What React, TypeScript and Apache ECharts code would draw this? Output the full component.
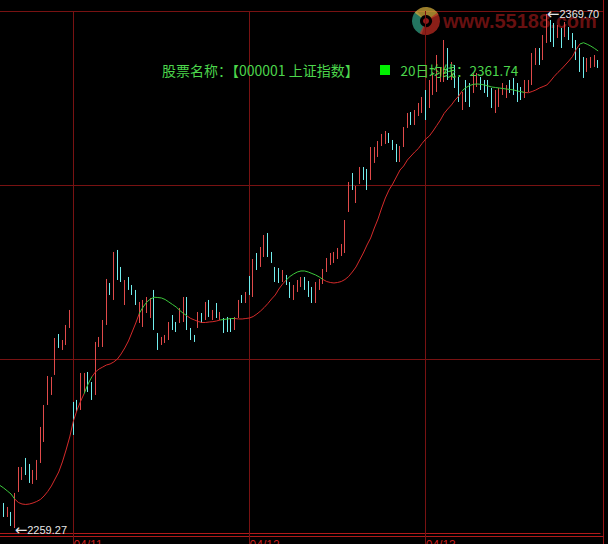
import React, { useEffect, useRef } from 'react';
import * as echarts from 'echarts';

// Trading days shown and how many 5-minute bars of each are on screen
const dayLabels = ['04/10', '04/11', '04/12', '04/13'];
const barsPerDay = [20, 48, 48, 48];

// 5-minute bars: [open, close, lowest, highest]
const ohlc: number[][] = [
  [2265.29, 2261.86, 2261.86, 2265.29], [2264.65, 2261.64, 2261.64, 2264.65], [2261.64, 2263.79, 2261.64, 2263.79], [2262.72, 2259.71, 2259.71, 2262.72],
  [2259.27, 2266.80, 2259.27, 2266.80], [2267.01, 2272.38, 2267.01, 2272.38], [2269.59, 2272.38, 2269.59, 2272.38], [2274.32, 2270.66, 2270.66, 2274.32],
  [2273.03, 2268.95, 2268.95, 2273.03], [2268.73, 2271.74, 2268.73, 2271.74], [2269.59, 2273.89, 2269.59, 2273.89], [2273.24, 2280.98, 2273.24, 2280.98],
  [2277.75, 2285.70, 2277.75, 2285.70], [2285.70, 2291.93, 2285.70, 2291.93], [2287.85, 2291.72, 2287.85, 2291.72], [2292.15, 2300.09, 2292.15, 2300.09],
  [2300.95, 2297.95, 2297.95, 2300.95], [2297.52, 2299.66, 2297.52, 2299.66], [2298.59, 2302.89, 2298.59, 2302.89], [2302.24, 2306.11, 2302.24, 2306.11],
  [2286.35, 2279.26, 2279.26, 2286.35], [2286.78, 2284.20, 2284.20, 2286.78], [2284.63, 2292.58, 2284.63, 2292.58], [2288.28, 2292.58, 2288.28, 2292.58],
  [2292.79, 2288.49, 2288.49, 2292.79], [2290.64, 2286.78, 2286.78, 2290.64], [2287.85, 2299.24, 2287.85, 2299.24], [2298.16, 2300.31, 2298.16, 2300.31],
  [2298.16, 2303.96, 2298.16, 2303.96], [2302.89, 2312.77, 2302.89, 2312.77], [2311.91, 2309.33, 2309.33, 2311.91], [2308.26, 2318.57, 2308.26, 2318.57],
  [2319.00, 2312.55, 2312.55, 2319.00], [2315.35, 2312.12, 2312.12, 2315.35], [2307.18, 2312.55, 2307.18, 2312.55], [2313.20, 2310.41, 2310.41, 2313.20],
  [2311.48, 2309.33, 2309.33, 2311.48], [2310.41, 2307.18, 2307.18, 2310.41], [2303.32, 2307.83, 2303.32, 2307.83], [2302.46, 2308.26, 2302.46, 2308.26],
  [2305.46, 2308.90, 2305.46, 2308.90], [2304.39, 2308.69, 2304.39, 2308.69], [2310.41, 2301.81, 2301.81, 2310.41], [2301.17, 2297.52, 2297.52, 2301.17],
  [2298.59, 2300.31, 2298.59, 2300.31], [2299.02, 2300.74, 2299.02, 2300.74], [2299.66, 2303.53, 2299.66, 2303.53], [2305.03, 2301.81, 2301.81, 2305.03],
  [2303.53, 2301.38, 2301.38, 2303.53], [2303.32, 2306.54, 2303.32, 2306.54], [2303.53, 2308.90, 2303.53, 2308.90], [2308.90, 2301.81, 2301.81, 2308.90],
  [2302.24, 2299.66, 2299.66, 2302.24], [2300.74, 2299.24, 2299.24, 2300.74], [2302.24, 2305.68, 2302.24, 2305.68], [2305.46, 2303.32, 2303.32, 2305.46],
  [2303.96, 2307.83, 2303.96, 2307.83], [2308.26, 2304.61, 2304.61, 2308.26], [2303.96, 2306.11, 2303.96, 2306.11], [2307.61, 2304.39, 2304.39, 2307.61],
  [2303.96, 2305.68, 2303.96, 2305.68], [2304.39, 2301.17, 2301.17, 2304.39], [2304.61, 2301.38, 2301.38, 2304.61], [2304.39, 2301.38, 2301.38, 2304.39],
  [2301.81, 2304.61, 2301.81, 2304.61], [2304.39, 2308.26, 2304.39, 2308.26], [2309.33, 2307.61, 2307.61, 2309.33], [2307.61, 2309.98, 2307.61, 2309.98],
  [2313.41, 2309.33, 2309.33, 2313.41], [2308.90, 2317.06, 2308.90, 2317.06], [2318.35, 2314.70, 2314.70, 2318.35], [2315.35, 2319.64, 2315.35, 2319.64],
  [2317.49, 2322.22, 2317.49, 2322.22], [2322.65, 2317.49, 2317.49, 2322.65], [2318.57, 2316.21, 2316.21, 2318.57], [2315.35, 2312.12, 2312.12, 2315.35],
  [2315.13, 2311.91, 2311.91, 2315.13], [2312.12, 2314.70, 2312.12, 2314.70], [2313.63, 2311.48, 2311.48, 2313.63], [2312.12, 2308.69, 2308.69, 2312.12],
  [2308.26, 2311.48, 2308.26, 2311.48], [2309.98, 2312.55, 2309.98, 2312.55], [2311.05, 2313.20, 2311.05, 2313.20], [2313.20, 2310.41, 2310.41, 2313.20],
  [2312.34, 2308.90, 2308.90, 2312.34], [2311.05, 2307.61, 2307.61, 2311.05], [2307.61, 2312.12, 2307.61, 2312.12], [2310.41, 2312.77, 2310.41, 2312.77],
  [2311.69, 2314.92, 2311.69, 2314.92], [2314.27, 2317.28, 2314.27, 2317.28], [2315.78, 2318.35, 2315.78, 2318.35], [2316.21, 2318.57, 2316.21, 2318.57],
  [2317.06, 2319.43, 2317.06, 2319.43], [2317.71, 2320.29, 2317.71, 2320.29], [2318.35, 2325.44, 2318.35, 2325.44], [2327.16, 2333.61, 2327.16, 2333.61],
  [2335.54, 2331.89, 2331.89, 2335.54], [2329.09, 2332.75, 2329.09, 2332.75], [2333.18, 2336.83, 2333.18, 2336.83], [2336.83, 2334.04, 2334.04, 2336.83],
  [2336.40, 2331.89, 2331.89, 2336.40], [2334.04, 2341.12, 2334.04, 2341.12], [2337.69, 2341.12, 2337.69, 2341.12], [2338.98, 2342.41, 2338.98, 2342.41],
  [2341.34, 2343.92, 2341.34, 2343.92], [2341.77, 2344.56, 2341.77, 2344.56], [2344.13, 2341.98, 2341.98, 2344.13], [2342.63, 2340.48, 2340.48, 2342.63],
  [2341.77, 2337.90, 2337.90, 2341.77], [2337.90, 2341.34, 2337.90, 2341.34], [2341.12, 2345.42, 2341.12, 2345.42], [2345.21, 2348.43, 2345.21, 2348.43],
  [2348.64, 2345.85, 2345.85, 2348.64], [2345.85, 2349.07, 2345.85, 2349.07], [2347.78, 2350.58, 2347.78, 2350.58], [2348.43, 2351.87, 2348.43, 2351.87],
  [2353.37, 2346.93, 2346.93, 2353.37], [2349.50, 2355.52, 2349.50, 2355.52], [2352.30, 2357.24, 2352.30, 2357.24], [2352.94, 2360.89, 2352.94, 2360.89],
  [2355.09, 2358.10, 2355.09, 2358.10], [2355.09, 2364.11, 2355.09, 2364.11], [2362.39, 2355.52, 2355.52, 2362.39], [2355.52, 2359.38, 2355.52, 2359.38],
  [2358.74, 2353.80, 2353.80, 2358.74], [2356.16, 2350.79, 2350.79, 2356.16], [2349.07, 2352.94, 2349.07, 2352.94], [2355.52, 2350.79, 2350.79, 2355.52],
  [2354.87, 2349.72, 2349.72, 2354.87], [2352.73, 2357.02, 2352.73, 2357.02], [2354.01, 2357.02, 2354.01, 2357.02], [2356.16, 2353.37, 2353.37, 2356.16],
  [2355.52, 2352.73, 2352.73, 2355.52], [2355.52, 2351.87, 2351.87, 2355.52], [2353.80, 2349.50, 2349.50, 2353.80], [2348.43, 2353.37, 2348.43, 2353.37],
  [2349.72, 2353.80, 2349.72, 2353.80], [2352.30, 2354.87, 2352.30, 2354.87], [2351.65, 2354.44, 2351.65, 2354.44], [2355.52, 2352.73, 2352.73, 2355.52],
  [2355.95, 2352.30, 2352.30, 2355.95], [2354.87, 2350.79, 2350.79, 2354.87], [2354.01, 2351.22, 2351.22, 2354.01], [2351.65, 2355.52, 2351.65, 2355.52],
  [2352.94, 2355.52, 2352.94, 2355.52], [2354.44, 2361.32, 2354.44, 2361.32], [2358.74, 2362.39, 2358.74, 2362.39], [2362.39, 2358.74, 2358.74, 2362.39],
  [2359.81, 2365.18, 2359.81, 2365.18], [2363.47, 2369.70, 2363.47, 2369.70], [2368.41, 2363.68, 2363.68, 2368.41], [2367.76, 2362.61, 2362.61, 2367.76],
  [2364.54, 2367.33, 2364.54, 2367.33], [2366.69, 2362.39, 2362.39, 2366.69], [2364.75, 2367.98, 2364.75, 2367.98], [2366.90, 2364.11, 2364.11, 2366.90],
  [2365.61, 2362.39, 2362.39, 2365.61], [2364.11, 2359.81, 2359.81, 2364.11], [2362.39, 2357.24, 2357.24, 2362.39], [2360.46, 2355.95, 2355.95, 2360.46],
  [2357.24, 2360.24, 2357.24, 2360.24], [2358.10, 2360.46, 2358.10, 2360.46], [2358.31, 2360.89, 2358.31, 2360.89], [2359.81, 2358.10, 2358.10, 2359.81],
];

// 20-bar moving average, one value per bar
const ma20: number[] = [
  2268.41, 2267.87, 2267.23, 2266.58, 2265.51, 2264.76, 2264.43, 2264.33, 2264.43, 2264.65,
  2264.97, 2265.40, 2266.15, 2267.12, 2268.30, 2269.80, 2271.31, 2273.46, 2276.03, 2278.83,
  2282.26, 2284.63, 2286.56, 2288.28, 2290.21, 2291.72, 2292.79, 2293.43, 2293.86, 2294.29,
  2294.51, 2294.94, 2295.58, 2296.66, 2297.95, 2299.45, 2301.38, 2303.32, 2305.46, 2306.75,
  2307.83, 2308.47, 2308.84, 2308.79, 2308.69, 2308.36, 2307.83, 2307.29, 2306.75, 2306.00,
  2305.36, 2304.82, 2304.28, 2303.96, 2303.64, 2303.42, 2303.42, 2303.53, 2303.60, 2303.75,
  2303.96, 2304.07, 2304.18, 2304.28, 2304.28, 2304.18, 2304.18, 2304.28, 2304.39, 2304.71,
  2305.25, 2305.89, 2306.65, 2307.51, 2308.47, 2309.33, 2310.62, 2311.69, 2312.55, 2313.31,
  2313.84, 2314.27, 2314.49, 2314.49, 2314.27, 2313.95, 2313.63, 2313.20, 2312.66, 2312.23,
  2312.02, 2311.91, 2312.02, 2312.23, 2312.66, 2313.31, 2314.27, 2315.35, 2316.85, 2318.35,
  2320.07, 2321.58, 2323.72, 2325.66, 2328.02, 2330.17, 2331.89, 2333.18, 2334.68, 2336.18,
  2337.04, 2338.33, 2339.19, 2340.05, 2340.80, 2341.88, 2342.84, 2343.49, 2344.56, 2345.74,
  2346.92, 2348.32, 2349.29, 2350.15, 2351.22, 2352.08, 2353.26, 2353.91, 2354.34, 2354.59,
  2354.66, 2354.59, 2354.44, 2354.23, 2354.01, 2353.91, 2353.80, 2353.69, 2353.58, 2353.48,
  2353.37, 2353.15, 2353.00, 2352.83, 2352.79, 2353.05, 2353.37, 2353.80, 2354.12, 2354.44,
  2355.30, 2356.27, 2357.13, 2357.88, 2358.74, 2359.60, 2360.57, 2362.07, 2363.25, 2363.53,
  2363.20, 2362.80, 2362.30, 2361.74,
];

// Bar ranges where price sits under the average (line drawn green there)
const maBelowSpans: [number, number][] = [
  [0, 3.8], [23.2, 25.3], [38.1, 50.5], [60, 63.8], [77.9, 88], [125.8, 143], [158, 163],
];

const Y_MIN = 2258.2;
const Y_MAX = 2370.34;

const UP = '#e04a4a';
const DOWN = '#72eeee';
const MA_RED = '#d42a2a';
const MA_GREEN = '#3cc83c';
const GRID = '#781212';
const AXIS = '#b01a1a';
const TXT = '#4cd64c';
const MARK_TXT = '#e6e6e6';

function sessionTimes(): string[] {
  const out: string[] = [];
  const add = (h: number, m: number, n: number) => {
    let t = h * 60 + m;
    for (let k = 0; k < n; k++) {
      t += 5;
      out.push(`${String(Math.floor(t / 60)).padStart(2, '0')}:${String(t % 60).padStart(2, '0')}`);
    }
  };
  add(9, 30, 24);
  add(13, 0, 24);
  return out;
}

const fullDay = sessionTimes();
const categories: string[] = [];
const dayStarts: number[] = [];
dayLabels.forEach((d, k) => {
  const n = barsPerDay[k];
  if (k > 0) dayStarts.push(categories.length);
  fullDay.slice(fullDay.length - n).forEach((t) => categories.push(`${d} ${t}`));
});
const isDayStart = (i: number) => dayStarts.indexOf(i) >= 0;

const BAR_STEP = 3.67;

export default function App() {
  const ref = useRef<HTMLDivElement>(null);

  useEffect(() => {
    document.body.style.margin = '0';
    document.body.style.background = '#000';
    if (!ref.current) return;
    const chart = echarts.init(ref.current, undefined, { renderer: 'svg' });
    const lastMa = ma20[ma20.length - 1];

    const extremeLabel = {
      show: true,
      position: 'right',
      distance: 0,
      formatter: (p: any) => '{a|←}{b|' + Number(p.value).toFixed(2) + '}',
      rich: {
        a: { fontSize: 15, fontFamily: 'DejaVu Sans', color: MARK_TXT },
        b: { fontSize: 11, fontFamily: 'Liberation Sans', color: MARK_TXT },
      },
    };

    const option: any = {
      animation: false,
      backgroundColor: '#000',
      grid: {
        left: -BAR_STEP / 2,
        top: 11,
        width: BAR_STEP * ohlc.length,
        height: 522,
        outerBoundsMode: 'none',
        containLabel: false,
      },
      xAxis: {
        type: 'category',
        data: categories,
        boundaryGap: true,
        axisLine: { lineStyle: { color: AXIS, width: 1 } },
        axisTick: {
          show: true,
          alignWithLabel: true,
          length: 11,
          interval: (i: number) => isDayStart(i),
          lineStyle: { color: GRID },
        },
        axisLabel: {
          interval: (i: number) => isDayStart(i),
          formatter: (v: string) => v.split(' ')[0],
          color: '#c81e1e',
          fontSize: 12,
          fontFamily: 'Liberation Sans',
          align: 'left',
          verticalAlign: 'top',
          margin: 6,
        },
        splitLine: { show: false },
      },
      yAxis: {
        type: 'value',
        min: Y_MIN,
        max: Y_MAX,
        position: 'right',
        axisLine: { show: false },
        axisTick: { show: false },
        axisLabel: { show: false },
        splitLine: { show: false },
      },
      visualMap: {
        show: false,
        type: 'piecewise',
        seriesIndex: 1,
        dimension: 0,
        pieces: maBelowSpans.map(([a, b]) => ({ gte: a, lte: b, color: MA_GREEN })),
        outOfRange: { color: MA_RED },
      },
      series: [
        {
          type: 'candlestick',
          data: ohlc,
          barWidth: 0.6,
          z: 3,
          silent: true,
          itemStyle: {
            color: UP,
            color0: DOWN,
            borderColor: UP,
            borderColor0: DOWN,
            borderWidth: 1,
          },
          markLine: {
            silent: true,
            z: 1,
            symbol: ['none', 'none'],
            label: { show: false },
            lineStyle: { color: GRID, width: 1, type: 'solid' },
            emphasis: { disabled: true },
            data: [
              ...dayStarts.map((i) => ({ xAxis: categories[i] })),
              { yAxis: Y_MIN + (Y_MAX - Y_MIN) / 3 },
              { yAxis: Y_MIN + (2 * (Y_MAX - Y_MIN)) / 3 },
            ],
          },
          markPoint: {
            symbol: 'circle',
            symbolSize: 0,
            silent: true,
            z: 20,
            label: extremeLabel,
            data: [
              { type: 'min', valueDim: 'lowest', label: { offset: [0, 2] } },
              { type: 'max', valueDim: 'highest' },
            ],
          },
        },
        {
          type: 'line',
          data: ma20,
          showSymbol: false,
          symbol: 'none',
          silent: true,
          z: 4,
          lineStyle: { width: 1 },
        },
      ],
      graphic: [
        { type: 'line', silent: true, z: 0, shape: { x1: 0, y1: 11.5, x2: 603.5, y2: 11.5 }, style: { stroke: GRID, lineWidth: 1 } },
        { type: 'line', silent: true, z: 0, shape: { x1: 603.5, y1: 0, x2: 603.5, y2: 544 }, style: { stroke: '#9a1616', lineWidth: 1 } },
        { type: 'line', silent: true, z: 0, shape: { x1: 0, y1: 536.5, x2: 603.5, y2: 536.5 }, style: { stroke: AXIS, lineWidth: 1 } },
        {
          type: 'text', x: 162, y: 70, z: 10, silent: true,
          style: { text: '股票名称：【000001 上证指数】', fill: TXT, fontSize: 14, fontFamily: 'Noto Sans CJK SC', verticalAlign: 'middle' },
        },
        { type: 'rect', x: 380, y: 65, z: 10, silent: true, shape: { width: 10, height: 10 }, style: { fill: '#00f000' } },
        {
          type: 'text', x: 400.5, y: 70, z: 10, silent: true,
          style: { text: '20日均线：' + lastMa.toFixed(2), fill: TXT, fontSize: 13.5, fontFamily: 'Noto Sans CJK SC', verticalAlign: 'middle' },
        },
        {
          type: 'group', z: 15, silent: true,
          children: [
            { type: 'sector', shape: { cx: 426, cy: 21, r: 14, r0: 6, startAngle: Math.PI * 0.6, endAngle: Math.PI * 1.25 }, style: { fill: '#2f9c80', opacity: 0.75 } },
            { type: 'sector', shape: { cx: 426, cy: 21, r: 14, r0: 6, startAngle: Math.PI * 1.2, endAngle: Math.PI * 1.85 }, style: { fill: '#cfa83a', opacity: 0.75 } },
            { type: 'sector', shape: { cx: 426, cy: 21, r: 14, r0: 6, startAngle: Math.PI * 1.8, endAngle: Math.PI * 2.65 }, style: { fill: '#b82a20', opacity: 0.75 } },
            { type: 'circle', shape: { cx: 426, cy: 21, r: 3 }, style: { fill: '#b82020', opacity: 0.8 } },
            {
              type: 'text', x: 443, y: 21,
              style: { text: 'www.55188.com', fill: '#7c1414', opacity: 0.85, fontSize: 20, fontWeight: 'bold', fontFamily: 'Liberation Sans', verticalAlign: 'middle' },
            },
          ],
        },
      ],
    };

    chart.setOption(option);
    return () => chart.dispose();
  }, []);

  return (
    <div
      ref={ref}
      style={{ position: 'fixed', left: 0, top: 0, width: 608, height: 544, background: '#000' }}
    />
  );
}
